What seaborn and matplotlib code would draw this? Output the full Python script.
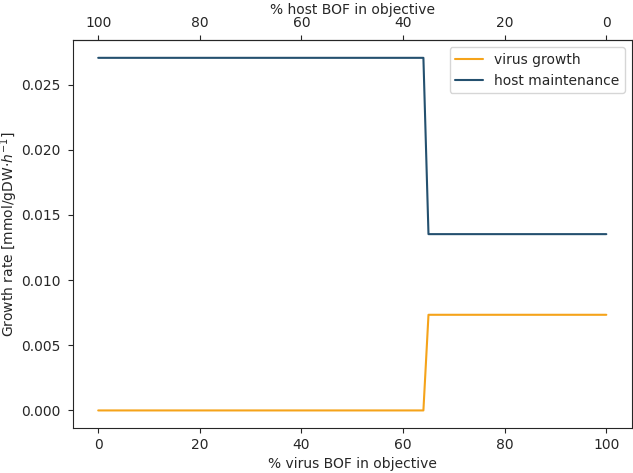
import matplotlib
matplotlib.use("Agg")
import matplotlib.pyplot as plt
import seaborn as sns
import pandas as pd

# % virus BOF in objective (points where the curves change)
virus_pct = [0, 64, 65, 100]
virus_growth = [0.0, 0.0, 0.00734, 0.00734]
host_maintenance = [0.02706, 0.02706, 0.01353, 0.01353]

df = pd.DataFrame({'virus_pct': virus_pct,
                   'virus growth': virus_growth,
                   'host maintenance': host_maintenance})

sns.set_style("ticks")
plt.rcParams['font.family'] = ['DejaVu Sans']

fig, ax = plt.subplots(figsize=(6.33, 4.73), dpi=100)
fig.subplots_adjust(left=0.115, right=0.998, top=0.915, bottom=0.095)

sns.lineplot(data=df, x='virus_pct', y='virus growth', ax=ax,
             color='#F5A31A', label='virus growth', linewidth=1.5)
sns.lineplot(data=df, x='virus_pct', y='host maintenance', ax=ax,
             color='#24506F', label='host maintenance', linewidth=1.5)

ax.set_xlabel('% virus BOF in objective')
ax.set_ylabel(r'Growth rate [mmol/gDW$\cdot h^{-1}$]', labelpad=1)
ax.set_xticks([0, 20, 40, 60, 80, 100])
ax.set_yticks([0.0, 0.005, 0.010, 0.015, 0.020, 0.025])
ax.yaxis.set_major_formatter(matplotlib.ticker.FormatStrFormatter('%.3f'))
ax.tick_params(axis='y', pad=5)

top = ax.secondary_xaxis('top', functions=(lambda x: 100 - x, lambda x: 100 - x))
top.set_xticks([100, 80, 60, 40, 20, 0])
top.set_xlabel('% host BOF in objective', labelpad=2)

ax.legend(loc='upper right', frameon=True)

fig.savefig('out.png', dpi=100)
